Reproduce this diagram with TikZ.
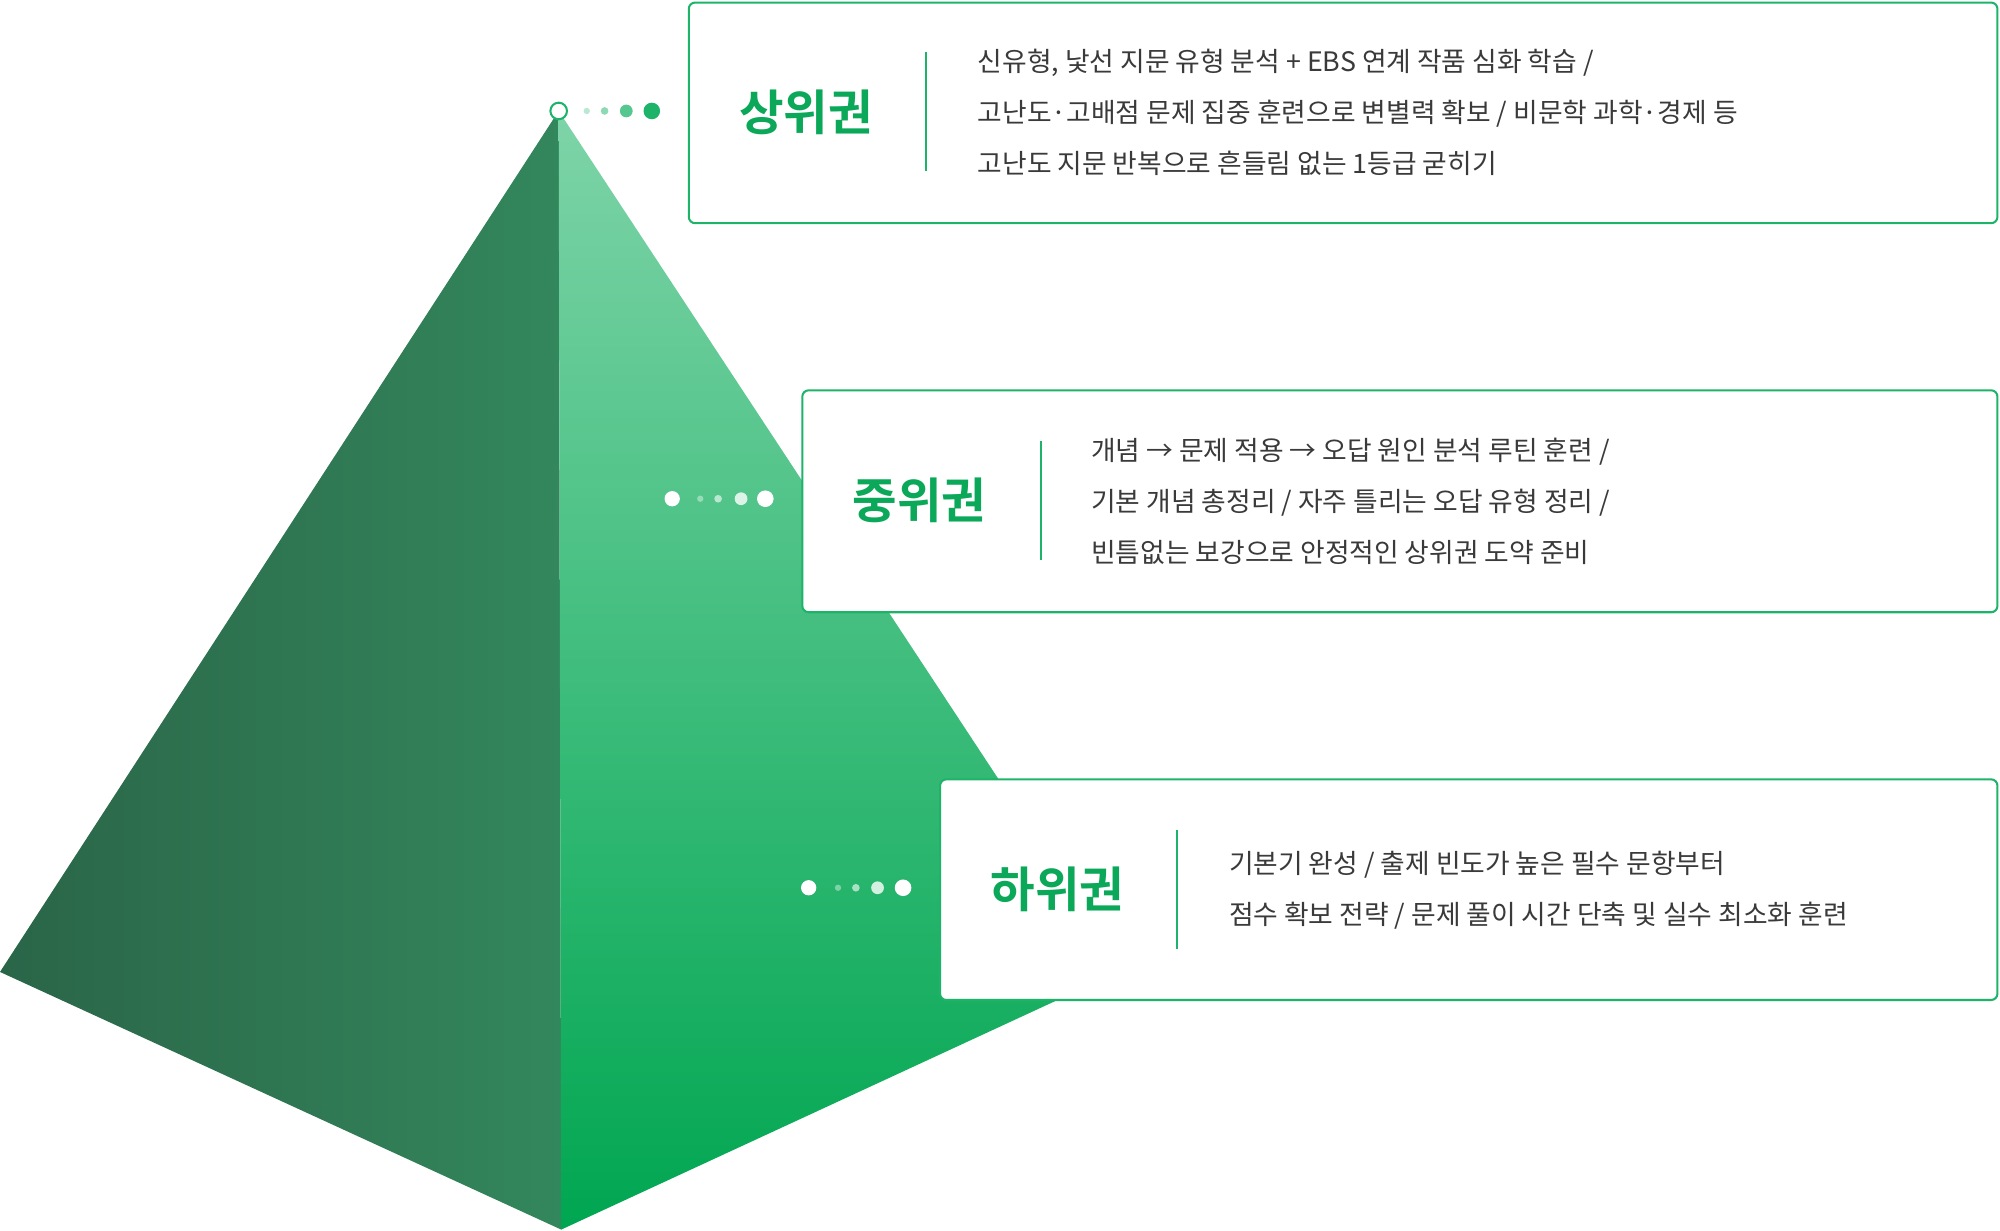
\documentclass[tikz,border=0pt]{standalone}
\usepackage{fontspec}
\setmainfont{Noto Sans CJK KR}
\newfontfamily\krbold[BoldFont={Noto Sans CJK KR Bold}]{Noto Sans CJK KR Bold}
\usetikzlibrary{positioning}
\definecolor{pgreen}{HTML}{1DB46A}
\definecolor{tgreen}{HTML}{0AA858}
\definecolor{darkL}{HTML}{2A6548}
\definecolor{darkR}{HTML}{33875C}
\definecolor{lightT}{HTML}{7ED4A8}
\definecolor{lightB}{HTML}{00A651}
\definecolor{bodytxt}{HTML}{3A3A3A}
\tikzset{
  levelbox/.style={draw=pgreen, line width=1.6pt, fill=white, rounded corners=5pt},
  leveltitle/.style={font=\krbold\fontsize{38}{44}\selectfont, text=tgreen, anchor=center},
  leveltext/.style={font=\fontsize{21}{40}\selectfont, text=bodytxt, align=left, anchor=west},
  divider/.style={pgreen, line width=1.6pt}
}
\begin{document}
\begin{tikzpicture}[x=1pt,y=-1pt]
        \useasboundingbox (0,0) rectangle (1568,965);
        % pyramid
        \shade [left color=darkL, right color=darkR] (438,87) -- (0,762) -- (440,964) -- cycle;
        \shade [top color=lightT, bottom color=lightB] (438,87) -- (881,760) -- (440,964) -- cycle;
        
        % boxes
        \draw [levelbox] (540,2) rectangle (1566,175);
        \draw [levelbox] (629,306) rectangle (1566,480);
        \draw [levelbox] (737,611) rectangle (1566,784);
        
        \node [leveltitle] (top) at (632,88) {상위권};
        \node [leveltitle] (mid) at (721,392) {중위권};
        \node [leveltitle] (low) at (829,697) {하위권};
        
        \draw [divider] (726,41) -- (726,134);
        \draw [divider] (816,346) -- (816,439);
        \draw [divider] (923,651) -- (923,744);
        
        \node [leveltext] (toptext) at (763,88) {신유형, 낯선 지문 유형 분석 + EBS 연계 작품 심화 학습 /\\고난도·고배점 문제 집중 훈련으로 변별력 확보 / 비문학 과학·경제 등\\고난도 지문 반복으로 흔들림 없는 1등급 굳히기};
        \node [leveltext] (midtext) at (852,393) {개념 → 문제 적용 → 오답 원인 분석 루틴 훈련 /\\기본 개념 총정리 / 자주 틀리는 오답 유형 정리 /\\빈틈없는 보강으로 안정적인 상위권 도약 준비};
        \node [leveltext] (lowtext) at (960,698) {기본기 완성 / 출제 빈도가 높은 필수 문항부터\\점수 확보 전략 / 문제 풀이 시간 단축 및 실수 최소화 훈련};
        
        % dots
        \filldraw [draw=pgreen, fill=white, line width=1.6pt] (438,87) circle (6.5);
        \foreach \x/\r/\o in {460/2.5/0.3, 474/3/0.5, 491/5/0.75, 511/6.5/1}
            \fill [pgreen, opacity=\o] (\x,87) circle (\r);
        \foreach \x/\r/\o in {527/6/1, 549/2.5/0.4, 563/3/0.6, 581/5/0.8, 600/6.5/1}
            \fill [white, opacity=\o] (\x,391) circle (\r);
        \foreach \x/\r/\o in {634/6/1, 657/2.5/0.4, 671/3/0.6, 688/5/0.8, 708/6.5/1}
            \fill [white, opacity=\o] (\x,696) circle (\r);
    \end{tikzpicture}
\end{document}
